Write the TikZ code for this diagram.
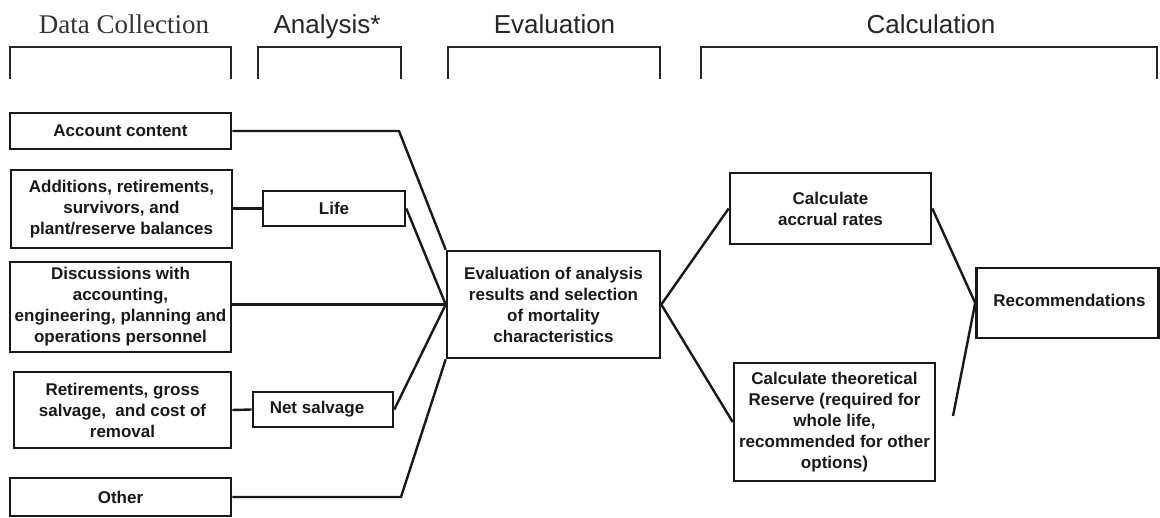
\documentclass[tikz,border=0pt]{standalone}
\usepackage{fontspec}
\setmainfont{Liberation Serif}
\setsansfont{Liberation Sans}
\newfontfamily\arialb{Liberation Sans}
\begin{document}
\begin{tikzpicture}[x=1pt,y=-1pt,
  box/.style={draw=black!90,line width=2.6pt,inner sep=0pt,align=center,
    font=\arialb\bfseries\fontsize{17}{21}\selectfont,text=black!90},
  conn/.style={draw=black!90,line width=2.4pt},
  brk/.style={draw=black!85,line width=2.5pt},
  titleS/.style={font=\sffamily\fontsize{26}{30}\selectfont,text=black!85,inner sep=0pt,anchor=base},
  titleR/.style={font=\rmfamily\fontsize{27}{30}\selectfont,text=black!80,inner sep=0pt,anchor=base}]
\useasboundingbox[fill=white] (0,0) rectangle (1160,518);
% titles
\node[titleR] (tdc) at (124,34) {Data Collection};
\node[titleS] (tan) at (327,34) {Analysis*};
\node[titleS] (tev) at (554.5,34) {Evaluation};
\node[titleS] (tca) at (931,34) {Calculation};
% brackets
\draw[brk] (10,79) -- (10,47) -- (231,47) -- (231,79);
\draw[brk] (258,79) -- (258,47) -- (401,47) -- (401,79);
\draw[brk] (448,79) -- (448,47) -- (660,47) -- (660,79);
\draw[brk] (701,79) -- (701,47) -- (1157,47) -- (1157,79);
% boxes
\node[box,minimum width=221,minimum height=36] (acc) at (120.5,131) {Account content};
\node[box,minimum width=221,minimum height=78] (add) at (121.5,209) {Additions, retirements,\\ survivors, and\\ plant/reserve balances};
\node[box,minimum width=142,minimum height=35] (life) at (334,208.5) {Life};
\node[box,minimum width=221,minimum height=90] (disc) at (120.5,307) {Discussions with\\ accounting,\\ engineering, planning and\\ operations personnel};
\node[box,minimum width=217,minimum height=76] (ret) at (122.5,410) {Retirements, gross\\ salvage,\ \ and cost of\\ removal};
\node[box,minimum width=140,minimum height=35] (net) at (323,409.5) {Net salvage\hspace{12pt}};
\node[box,minimum width=221,minimum height=38] (oth) at (120.5,497) {Other};
\node[box,minimum width=213,minimum height=107] (eval) at (553.5,304.5) {Evaluation of analysis\\ results and selection\\ of mortality\\ characteristics};
\node[box,minimum width=201,minimum height=71] (accr) at (830.5,208.5) {Calculate\\ accrual rates};
\node[box,minimum width=201,minimum height=118] (theo) at (834.5,422) {Calculate theoretical\\ Reserve (required for\\ whole life,\\ recommended for other\\ options)};
\node[box,minimum width=182,minimum height=70] (rec) at (1067.5,303) {\raisebox{5pt}{Recommendations}\hspace{-4pt}};
% connectors
\coordinate (accbend) at (399,131);
\coordinate (othbend) at (401,497);
\coordinate (free) at (953,416);
\draw[conn] (acc.east) -- (accbend) -- (eval.north west);
\draw[conn] (add.east |- life.west) -- (life.west);
\draw[conn] (life.east) -- (eval.west);
\draw[conn] (disc.east |- eval.west) -- (eval.west);
\draw[conn] (ret.east) -- (net.west);
\draw[conn] (net.east) -- (eval.west);
\draw[conn] (oth.east) -- (othbend) -- (eval.south west);
\draw[conn] (eval.east) -- (accr.west);
\draw[conn] (eval.east) -- (theo.west);
\draw[conn] (accr.east) -- (rec.west);
\draw[conn] (free) -- (rec.west);
\end{tikzpicture}
\end{document}
